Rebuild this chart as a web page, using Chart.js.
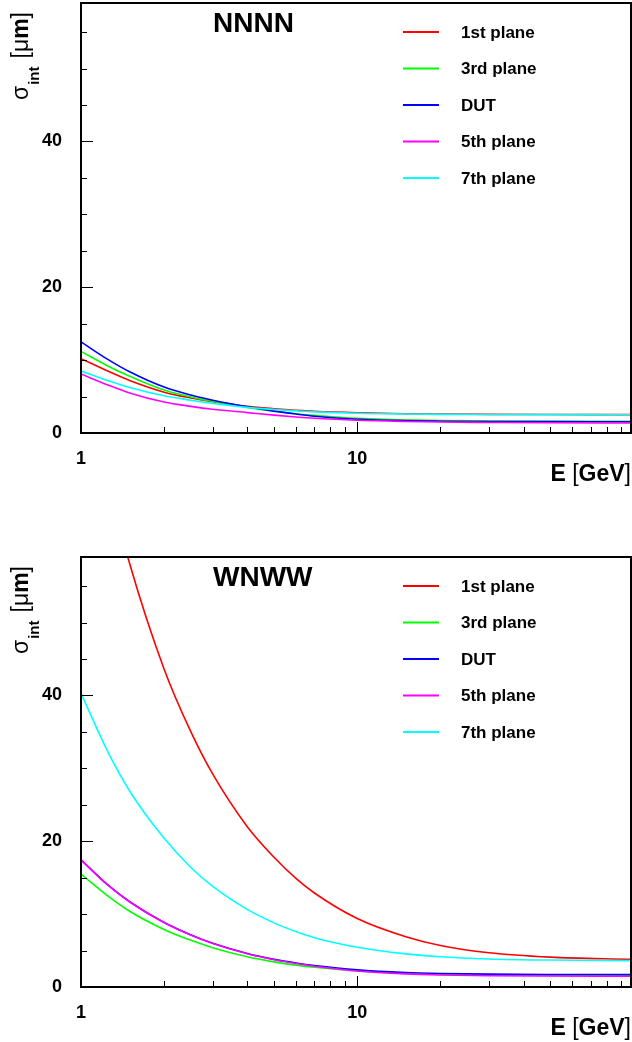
<!DOCTYPE html>
<html>
<head>
<meta charset="utf-8">
<script src="https://cdn.jsdelivr.net/npm/chart.js@4.4.1/dist/chart.umd.min.js"></script>
<style>
  html, body { margin: 0; padding: 0; background: #fff; }
  .panel { position: absolute; left: 0; width: 632px; height: 488px; }
</style>
</head>
<body>
<div class="panel" style="top:0px"><canvas id="chartTop" width="632" height="488"></canvas></div>
<div class="panel" style="top:554px"><canvas id="chartBottom" width="632" height="488"></canvas></div>
<script>
const energies = [1, 1.25, 1.5, 2, 2.5, 3, 4, 5, 6, 7, 10, 15, 20, 30, 50, 98];

const seriesLabels = ['1st plane', '3rd plane', 'DUT', '5th plane', '7th plane'];
const seriesColors = ['#ff0000', '#00ff00', '#0000ff', '#ff00ff', '#00ffff'];
const yTickLabels = [0, 20, 40];
const xTickLabels = [1, 10];

// NNNN configuration, sigma_int in um
const nnnnPlane1 = [10.2, 8.5, 7.2, 5.6, 4.8, 4.3, 3.65, 3.33, 3.12, 2.98, 2.78, 2.65, 2.6, 2.55, 2.53, 2.52];
const nnnnPlane3 = [11.2, 9.2, 7.8, 5.9, 4.95, 4.35, 3.5, 2.98, 2.65, 2.42, 2.0, 1.8, 1.7, 1.65, 1.62, 1.6];
const nnnnDut    = [12.5, 10.1, 8.4, 6.3, 5.2, 4.5, 3.6, 3.0, 2.6, 2.3, 1.88, 1.68, 1.62, 1.58, 1.56, 1.55];
const nnnnPlane5 = [8.1, 6.6, 5.5, 4.25, 3.65, 3.25, 2.8, 2.45, 2.2, 2.02, 1.75, 1.58, 1.5, 1.45, 1.4, 1.37];
const nnnnPlane7 = [8.5, 7.2, 6.25, 5.1, 4.5, 4.05, 3.52, 3.23, 3.04, 2.9, 2.7, 2.6, 2.55, 2.53, 2.52, 2.51];

// WNWW configuration, sigma_int in um (1st plane runs off the top below ~1.5 GeV)
const wnwwPlane1 = [87, 69.7, 58.1, 43.6, 35.0, 29.2, 22.0, 17.8, 14.9, 12.9, 9.4, 6.9, 5.7, 4.7, 4.1, 3.8];
const wnwwPlane3 = [15.5, 12.5, 10.4, 7.9, 6.4, 5.4, 4.15, 3.45, 3.0, 2.7, 2.2, 1.85, 1.72, 1.63, 1.58, 1.55];
const wnwwDut    = [17.45, 14.0, 11.7, 8.85, 7.15, 6.0, 4.6, 3.8, 3.3, 2.95, 2.35, 1.98, 1.85, 1.76, 1.72, 1.7];
const wnwwPlane5 = [17.45, 14.0, 11.7, 8.85, 7.12, 5.97, 4.57, 3.75, 3.22, 2.85, 2.2, 1.8, 1.65, 1.55, 1.5, 1.47];
const wnwwPlane7 = [40.3, 32.3, 26.9, 20.4, 16.4, 13.8, 10.65, 8.8, 7.6, 6.75, 5.45, 4.55, 4.15, 3.85, 3.7, 3.62];

const FAMILY = "'Liberation Sans', Arial, Helvetica, sans-serif";

// frame, inward ticks, axis titles, panel label and legend drawn ROOT-style
const rootDecor = {
  id: 'rootDecor',
  afterDraw(chart, args, opts) {
    const { ctx, chartArea: a, scales: { x, y } } = chart;
    ctx.save();
    ctx.strokeStyle = '#000';
    ctx.fillStyle = '#000';

    // ticks pointing into the frame
    ctx.lineWidth = 1;
    y.ticks.forEach(t => {
      const py = Math.round(y.getPixelForValue(t.value)) + 0.5;
      const len = t.value % 20 === 0 ? 12 : 6;
      ctx.beginPath();
      ctx.moveTo(a.left, py);
      ctx.lineTo(a.left + len, py);
      ctx.stroke();
    });
    x.ticks.forEach(t => {
      const v = t.value;
      const m = v / Math.pow(10, Math.floor(Math.log10(v) + 1e-9));
      if (Math.abs(m - Math.round(m)) > 1e-6) return;
      const px = Math.round(x.getPixelForValue(v)) + 0.5;
      const len = Math.round(m) === 1 ? 11 : 6;
      ctx.beginPath();
      ctx.moveTo(px, a.bottom);
      ctx.lineTo(px, a.bottom - len);
      ctx.stroke();
    });

    // frame
    ctx.lineWidth = 2;
    ctx.strokeRect(a.left, a.top, a.right - a.left, a.bottom - a.top);

    // panel label
    ctx.font = 'bold 28px ' + FAMILY;
    ctx.textAlign = 'left';
    ctx.textBaseline = 'alphabetic';
    ctx.fillText(opts.label, 213, 32);

    // legend
    chart.data.datasets.forEach((ds, i) => {
      const ry = 32 + i * 36.5;
      ctx.strokeStyle = ds.borderColor;
      ctx.lineWidth = 2;
      ctx.beginPath();
      ctx.moveTo(403, ry);
      ctx.lineTo(439, ry);
      ctx.stroke();
      ctx.fillStyle = '#000';
      ctx.font = 'bold 17px ' + FAMILY;
      ctx.textBaseline = 'middle';
      ctx.fillText(ds.label, 461, ry + 1);
    });

    // x title: E [GeV], right aligned at the frame edge
    ctx.textBaseline = 'alphabetic';
    ctx.textAlign = 'left';
    const xParts = [['E', 'bold'], [' ', 'normal'], ['[', 'normal'], ['GeV', 'bold'], [']', 'normal']];
    let total = 0;
    xParts.forEach(p => { ctx.font = p[1] + ' 23px ' + FAMILY; total += ctx.measureText(p[0]).width; });
    let cx = a.right - total;
    xParts.forEach(p => {
      ctx.font = p[1] + ' 23px ' + FAMILY;
      ctx.fillText(p[0], cx, 481);
      cx += ctx.measureText(p[0]).width;
    });

    // y title: sigma_int [um], rotated, ending near the top
    ctx.save();
    ctx.translate(28, 100);
    ctx.rotate(-Math.PI / 2);
    let tx = 0;
    ctx.font = 'normal 23px ' + FAMILY;
    ctx.fillText('\u03c3', tx, 0);
    tx += ctx.measureText('\u03c3').width + 1;
    ctx.font = 'bold 15px ' + FAMILY;
    ctx.fillText('int', tx, 11);
    tx += ctx.measureText('int').width + 8;
    const yParts = [['[', 'normal'], ['\u03bc', 'normal'], ['m', 'bold'], [']', 'normal']];
    yParts.forEach(p => {
      ctx.font = p[1] + ' 23px ' + FAMILY;
      ctx.fillText(p[0], tx, 0);
      tx += ctx.measureText(p[0]).width;
    });
    ctx.restore();

    ctx.restore();
  }
};

// drop the automatic label-overflow padding so the frame fills the panel
function clearPadding(s) {
  s.paddingTop = 0;
  s.paddingBottom = 0;
  s.paddingLeft = 0;
  s.paddingRight = 0;
}

function makeChart(id, label, values) {
  return new Chart(document.getElementById(id), {
    type: 'line',
    data: {
      datasets: values.map((vals, i) => ({
        label: seriesLabels[i],
        data: energies.map((e, j) => ({ x: e, y: vals[j] })),
        borderColor: seriesColors[i],
        backgroundColor: seriesColors[i],
        borderWidth: 1.6,
        pointRadius: 0,
        fill: false,
        cubicInterpolationMode: 'monotone',
        order: values.length - i
      }))
    },
    options: {
      responsive: false,
      animation: false,
      layout: { padding: { top: 3, right: 1, left: 1, bottom: 0 } },
      plugins: {
        legend: { display: false },
        tooltip: { enabled: false },
        rootDecor: { label: label }
      },
      scales: {
        x: {
          type: 'logarithmic',
          min: 1,
          max: 98,
          grid: { display: false, drawTicks: false },
          border: { display: false },
          ticks: {
            autoSkip: false,
            maxRotation: 0,
            padding: 15,
            color: '#000',
            font: { family: FAMILY, size: 18, weight: 'bold' },
            callback: v => xTickLabels.includes(v) ? String(v) : ''
          },
          afterFit: s => { s.height = 55; clearPadding(s); }
        },
        y: {
          min: 0,
          max: 59,
          grid: { display: false, drawTicks: false },
          border: { display: false },
          ticks: {
            stepSize: 5,
            includeBounds: false,
            autoSkip: false,
            padding: 19,
            color: '#000',
            font: { family: FAMILY, size: 18, weight: 'bold' },
            callback: v => yTickLabels.includes(v) ? String(v) : ''
          },
          afterFit: s => { s.width = 80; clearPadding(s); }
        }
      }
    },
    plugins: [rootDecor]
  });
}

makeChart('chartTop', 'NNNN', [nnnnPlane1, nnnnPlane3, nnnnDut, nnnnPlane5, nnnnPlane7]);
makeChart('chartBottom', 'WNWW', [wnwwPlane1, wnwwPlane3, wnwwDut, wnwwPlane5, wnwwPlane7]);
</script>
</body>
</html>
